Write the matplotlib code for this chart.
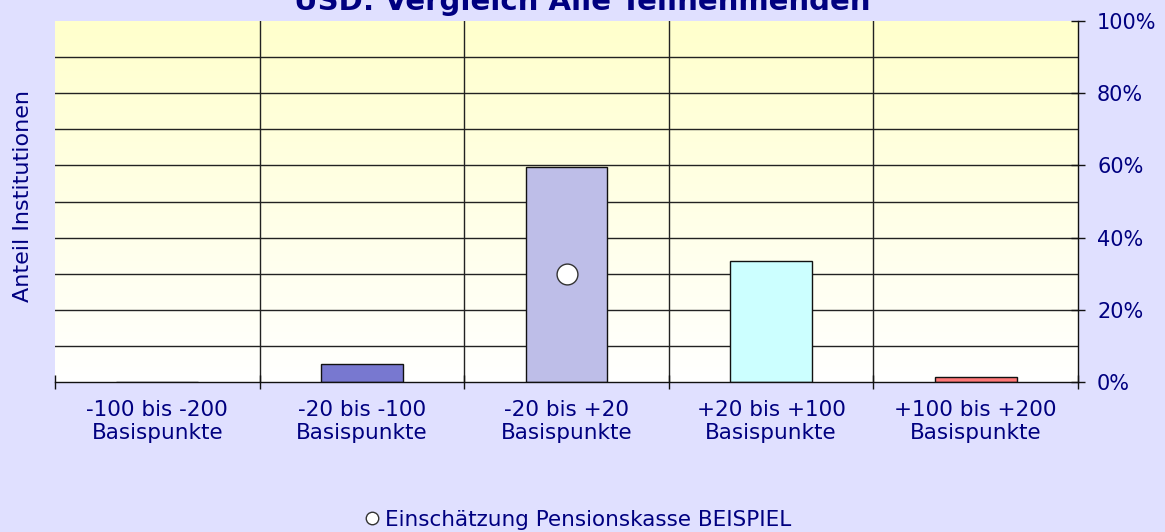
import matplotlib
matplotlib.use("Agg")
import matplotlib.pyplot as plt
import numpy as np
from matplotlib.lines import Line2D

categories = ["-100 bis -200\nBasispunkte", "-20 bis -100\nBasispunkte", "-20 bis +20\nBasispunkte",
              "+20 bis +100\nBasispunkte", "+100 bis +200\nBasispunkte"]
shares = [0.0, 5.0, 59.5, 33.5, 1.5]
bar_colors = ["#7878D0", "#7878D0", "#BEBEE8", "#CCFFFF", "#FF7878"]
marker_cat = 2
marker_value = 30.0
title = "USD: Vergleich Alle Teilnehmenden"
ylabel = "Anteil Institutionen"
legend_label = "Einschätzung Pensionskasse BEISPIEL"

navy = "#000080"
bg = "#E0E0FF"

fig = plt.figure(figsize=(11.65, 5.32), dpi=100, facecolor=bg)
ax = fig.add_axes([55/1165, 1-382/532, (1078-55)/1165, (382-21)/532])
ax.set_facecolor("white")

n = len(categories)
ax.set_xlim(-0.5, n-0.5)
ax.set_ylim(0, 100)

# gradient background
grad = np.linspace(0, 1, 256).reshape(-1, 1)
top = np.array([1.0, 1.0, 0.8])
bot = np.array([1.0, 1.0, 1.0])
img = bot[None, None, :] * (1-grad[..., None]) + top[None, None, :] * grad[..., None]
ax.imshow(img, extent=(-0.5, n-0.5, 0, 100), origin="lower", aspect="auto", zorder=0)

# grid
for y in range(10, 100, 10):
    ax.axhline(y, color="#222222", lw=1, zorder=1)
for x in np.arange(0.5, n-0.5, 1):
    ax.axvline(x, color="#222222", lw=1, zorder=1)

x = np.arange(n)
ax.bar(x, shares, width=0.4, color=bar_colors, edgecolor="#111111", linewidth=1, zorder=2)
ax.plot([marker_cat], [marker_value], "o", markersize=15, markerfacecolor="white",
        markeredgecolor="#333333", markeredgewidth=1, zorder=3)

for s in ["top", "left"]:
    ax.spines[s].set_visible(False)
for s in ["bottom", "right"]:
    ax.spines[s].set_color("#111111")
    ax.spines[s].set_linewidth(1)

ax.yaxis.tick_right()
ax.set_yticks(range(0, 101, 20))
ax.set_yticklabels([f"{v}%" for v in range(0, 101, 20)], color=navy, fontsize=15)
ax.tick_params(axis="y", direction="inout", length=9.4, width=1, color="#111111", pad=9)

ax.set_xticks(np.arange(-0.5, n, 1))
ax.set_xticklabels([])
ax.set_xticks(x, minor=True)
ax.set_xticklabels(categories, minor=True, color=navy, fontsize=15.5, linespacing=1.17)
ax.tick_params(axis="x", which="major", direction="inout", length=10, width=1, color="#111111")
ax.tick_params(axis="x", which="minor", length=0, pad=13)

fig.text(23/1165, 1-196/532, ylabel, rotation=90, color=navy, fontsize=16, ha="center", va="center")
fig.text(582/1165, 1-10/532, title, color=navy, fontsize=21, fontweight="bold", ha="center", va="baseline")

handle = Line2D([], [], marker="o", linestyle="none", markersize=9, markerfacecolor="white",
                markeredgecolor="#333333", markeredgewidth=1)
fig.legend([handle], [legend_label], loc="center", bbox_to_anchor=(576/1165, 1-520/532),
           frameon=False, fontsize=15.5, labelcolor=navy, handletextpad=0.1, handlelength=1.0,
           borderpad=0, borderaxespad=0)

fig.savefig("out.png", dpi=100, facecolor=bg)
